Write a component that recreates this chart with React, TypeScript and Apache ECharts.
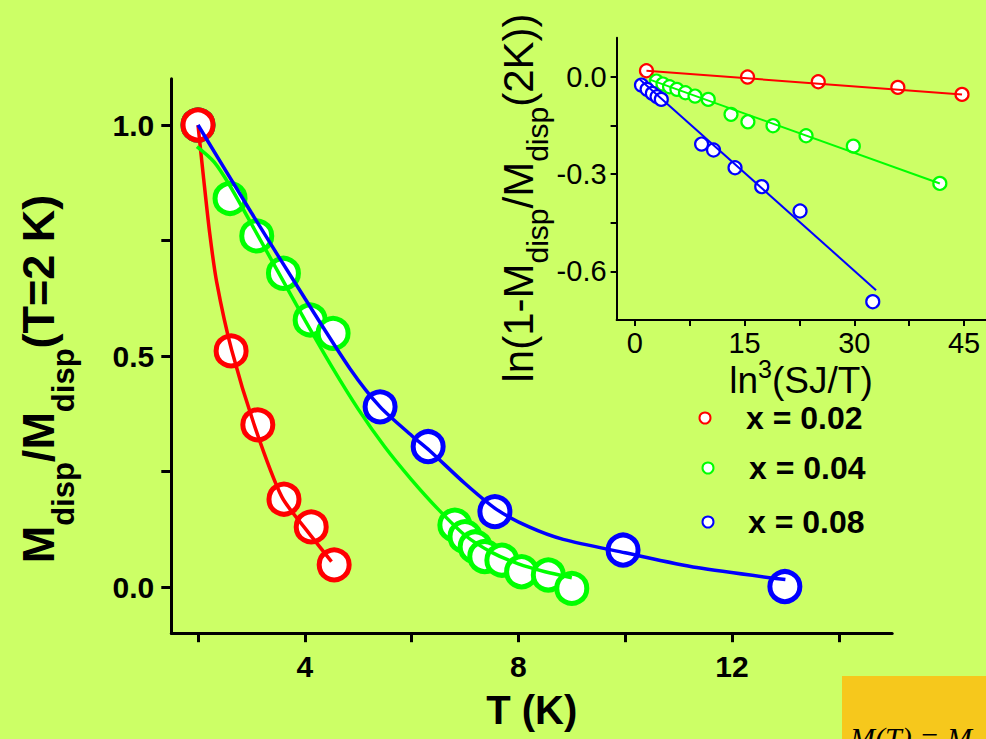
import React, { useEffect, useRef } from 'react';
import * as echarts from 'echarts';

// ---------- main panel data ----------
const redT = [2.0, 2.62, 3.12, 3.61, 4.12, 4.55];
const redM = [1.0, 0.511, 0.351, 0.19, 0.13, 0.048];
const greenT = [2.0, 2.6, 3.1, 3.6, 4.1, 4.53, 6.81, 7.0, 7.19, 7.37, 7.69, 8.06, 8.56, 9.0];
const greenM = [1.0, 0.841, 0.76, 0.679, 0.578, 0.549, 0.134, 0.109, 0.087, 0.066, 0.058, 0.033, 0.026, -0.003];
const blueT = [2.0, 5.41, 6.31, 7.56, 9.96, 12.99];
const blueM = [1.0, 0.39, 0.304, 0.163, 0.08, 0.001];

// fitted curves
const redFitT = [2.0, 2.1, 2.22, 2.35, 2.63, 3.07, 3.57, 4.04, 4.5];
const redFitM = [1.0, 0.89, 0.765, 0.66, 0.513, 0.345, 0.195, 0.122, 0.055];
const greenFitT = [1.98, 2.3, 2.6, 3.0, 3.5, 4.0, 4.5, 5.0, 5.5, 6.0, 6.5, 7.0, 7.5, 8.0, 8.5, 9.0];
const greenFitM = [0.953, 0.92, 0.868, 0.786, 0.682, 0.578, 0.478, 0.385, 0.303, 0.232, 0.168, 0.112, 0.075, 0.05, 0.033, 0.02];
const blueFitT = [2.0, 3.0, 4.0, 4.85, 5.41, 6.0, 6.34, 7.0, 7.59, 8.2, 8.84, 10.0, 11.34, 13.0];
const blueFitM = [1.0, 0.81, 0.625, 0.472, 0.39, 0.328, 0.295, 0.224, 0.168, 0.13, 0.103, 0.074, 0.042, 0.016];

const mainXTicks = [2, 4, 6, 8, 10, 12, 14];
const mainXLabels = [4, 8, 12];
const mainYTicks = [0, 0.25, 0.5, 0.75, 1.0];
const mainYLabels = [0, 0.5, 1.0];

// ---------- inset data ----------
const insRedX = [1.58, 15.4, 25.07, 35.95, 44.72];
const insRedY = [0.0185, -0.001, -0.0154, -0.0329, -0.0545];
const insGreenX = [2.94, 3.84, 4.74, 5.74, 6.91, 8.22, 10.03, 13.14, 15.45, 18.88, 23.4, 29.86, 41.69];
const insGreenY = [-0.0134, -0.0226, -0.0308, -0.039, -0.0493, -0.0596, -0.0699, -0.116, -0.139, -0.151, -0.182, -0.214, -0.329];
const insBlueX = [0.9, 1.67, 2.39, 3.03, 3.61, 9.12, 10.75, 13.69, 17.34, 22.58, 32.52];
const insBlueY = [-0.0257, -0.039, -0.0514, -0.0617, -0.0699, -0.2076, -0.226, -0.2805, -0.339, -0.414, -0.6936];

const insRedFitX = [1.58, 44.72];
const insRedFitY = [0.0185, -0.0545];
const insGreenFitX = [1.94, 41.69];
const insGreenFitY = [-0.0082, -0.329];
const insBlueFitX = [0.68, 32.97];
const insBlueFitY = [-0.0082, -0.658];

const insXTicks = [0, 7.5, 15, 22.5, 30, 37.5, 45];
const insXLabels = [0, 15, 30, 45];
const insYTicks = [0, -0.15, -0.3, -0.45, -0.6];
const insYLabels = [0, -0.3, -0.6];

const legendNames = ['x = 0.02', 'x = 0.04', 'x = 0.08'];

const RED = '#ff0000';
const GREEN = '#00ff00';
const BLUE = '#0000ff';
const FONT = '"Liberation Sans", Arial, Helvetica, sans-serif';

const zip = (a: number[], b: number[]) => a.map((v, i) => [v, b[i]]);

export default function App() {
  const ref = useRef<HTMLDivElement>(null);
  useEffect(() => {
    if (!ref.current) return;
    const chart = echarts.init(ref.current, undefined, { renderer: 'svg' });

    const mainScatter = (name: string, color: string, t: number[], m: number[]) => ({
      type: 'scatter', name, xAxisIndex: 0, yAxisIndex: 0, z: 2, silent: true,
      data: zip(t, m), symbol: 'circle', symbolSize: 30,
      itemStyle: { color: '#ffffff', borderColor: color, borderWidth: 5, opacity: 1 },
    });
    const mainLine = (color: string, t: number[], m: number[]) => ({
      type: 'line', xAxisIndex: 0, yAxisIndex: 0, z: 3, silent: true,
      data: zip(t, m), symbol: 'none', smooth: 0.25,
      lineStyle: { color, width: 3.5 },
    });
    const insScatter = (color: string, x: number[], y: number[]) => ({
      type: 'scatter', xAxisIndex: 1, yAxisIndex: 1, z: 2, silent: true,
      data: zip(x, y), symbol: 'circle', symbolSize: 13,
      itemStyle: { color: '#ffffff', borderColor: color, borderWidth: 2.2, opacity: 1 },
    });
    const insLine = (color: string, x: number[], y: number[]) => ({
      type: 'line', xAxisIndex: 1, yAxisIndex: 1, z: 3, silent: true,
      data: zip(x, y), symbol: 'none',
      lineStyle: { color, width: 2 },
    });

    const legendRows = [
      { c: RED, cx: 705, cy: 418, tx: 746 },
      { c: GREEN, cx: 708, cy: 468, tx: 749 },
      { c: BLUE, cx: 708, cy: 522, tx: 748 },
    ];

    const option: any = {
      animation: false,
      backgroundColor: '#ccff66',
      grid: [
        { left: 171.3, top: 78.8, width: 720.9, height: 554.4 },
        { left: 616.6, top: 37.8, width: 372.7, height: 282.2 },
      ],
      xAxis: [
        {
          type: 'value', gridIndex: 0, min: 1.5, max: 15,
          axisLine: { show: true, onZero: false, lineStyle: { color: '#000', width: 3 } },
          axisTick: { show: true, customValues: mainXTicks, length: 9, lineStyle: { color: '#000', width: 3 } },
          axisLabel: {
            customValues: mainXLabels, margin: 18, color: '#000', fontSize: 30, fontWeight: 'bold', fontFamily: FONT,
            formatter: (v: number) => String(v),
          },
          splitLine: { show: false },
          name: 'T (K)', nameLocation: 'middle', nameGap: 57,
          nameTextStyle: { fontSize: 40, fontWeight: 'bold', fontFamily: FONT, color: '#000' },
        },
        {
          type: 'value', gridIndex: 1, min: -2.5, max: 48,
          axisLine: { show: true, onZero: false, lineStyle: { color: '#000', width: 2 } },
          axisTick: { show: true, customValues: insXTicks, length: 6, lineStyle: { color: '#000', width: 2 } },
          axisLabel: {
            customValues: insXLabels, margin: 8, color: '#000', fontSize: 29, fontFamily: FONT,
            formatter: (v: number) => String(v),
          },
          splitLine: { show: false },
        },
      ],
      yAxis: [
        {
          type: 'value', gridIndex: 0, min: -0.1, max: 1.1,
          axisLine: { show: true, onZero: false, lineStyle: { color: '#000', width: 3 } },
          axisTick: { show: true, customValues: mainYTicks, length: 10, lineStyle: { color: '#000', width: 3 } },
          axisLabel: {
            customValues: mainYLabels, margin: 17, color: '#000', fontSize: 30, fontWeight: 'bold', fontFamily: FONT,
            formatter: (v: number) => v.toFixed(1),
          },
          splitLine: { show: false },
        },
        {
          type: 'value', gridIndex: 1, min: -0.75, max: 0.12,
          axisLine: { show: true, onZero: false, lineStyle: { color: '#000', width: 2 } },
          axisTick: { show: true, customValues: insYTicks, length: 6, lineStyle: { color: '#000', width: 2 } },
          axisLabel: {
            customValues: insYLabels, margin: 10, color: '#000', fontSize: 29, fontFamily: FONT,
            formatter: (v: number) => v.toFixed(1),
          },
          splitLine: { show: false },
        },
      ],
      series: [
        mainScatter(legendNames[2], BLUE, blueT, blueM),
        mainScatter(legendNames[1], GREEN, greenT, greenM),
        mainScatter(legendNames[0], RED, redT, redM),
        mainLine(RED, redFitT, redFitM),
        mainLine(GREEN, greenFitT, greenFitM),
        mainLine(BLUE, blueFitT, blueFitM),
        insScatter(RED, insRedX, insRedY),
        insScatter(GREEN, insGreenX, insGreenY),
        insScatter(BLUE, insBlueX, insBlueY),
        insLine(RED, insRedFitX, insRedFitY),
        insLine(GREEN, insGreenFitX, insGreenFitY),
        insLine(BLUE, insBlueFitX, insBlueFitY),
      ],
      graphic: [
        // main y title
        {
          type: 'text', x: 38, y: 379, rotation: Math.PI / 2, silent: true,
          style: {
            text: '{m|M}{s|disp}{m|/M}{s|disp}{m|(T=2 K)}',
            align: 'center', verticalAlign: 'middle', fill: '#000',
            rich: {
              m: { fontSize: 45, fontWeight: 'bold', fontFamily: FONT, fill: '#000' },
              s: { fontSize: 31, fontWeight: 'bold', fontFamily: FONT, fill: '#000', padding: [50, 0, 0, 0] },
            },
          },
        },
        // inset y title
        {
          type: 'text', x: 518, y: 198, rotation: Math.PI / 2, silent: true,
          style: {
            text: '{m|ln(1-M}{s|disp}{m|/M}{s|disp}{m|(2K))}',
            align: 'center', verticalAlign: 'middle', fill: '#000',
            rich: {
              m: { fontSize: 42, fontFamily: FONT, fill: '#000' },
              s: { fontSize: 30, fontFamily: FONT, fill: '#000', padding: [38, 0, 0, 0] },
            },
          },
        },
        // inset x title
        {
          type: 'text', x: 801, y: 380, silent: true,
          style: {
            text: '{m|ln}{p|3}{m|(SJ/T)}',
            align: 'center', verticalAlign: 'middle', fill: '#000',
            rich: {
              m: { fontSize: 37, fontFamily: FONT, fill: '#000' },
              p: { fontSize: 25, fontFamily: FONT, fill: '#000', padding: [0, 0, 23, 0] },
            },
          },
        },
        // legend
        ...legendRows.flatMap((r, i) => [
          {
            type: 'circle', silent: true, shape: { cx: r.cx, cy: r.cy, r: 5.5 },
            style: { fill: '#ffffff', stroke: r.c, lineWidth: 2 },
          },
          {
            type: 'text', x: r.tx, y: r.cy, silent: true,
            style: {
              text: legendNames[i], fontSize: 32, fontWeight: 'bold', fontFamily: FONT,
              fill: '#000', align: 'left', verticalAlign: 'middle',
            },
          },
        ]),
        // cropped yellow formula box
        {
          type: 'rect', silent: true, shape: { x: 842, y: 676, width: 150, height: 70 },
          style: { fill: '#f6c81c' },
        },
        {
          type: 'text', x: 850, y: 737, silent: true,
          style: {
            text: 'M(T) = M', fontSize: 30, fontStyle: 'italic',
            fontFamily: '"Liberation Serif", "DejaVu Serif", serif', fill: '#000',
            align: 'left', verticalAlign: 'middle',
          },
        },
      ],
    };
    chart.setOption(option);
    return () => chart.dispose();
  }, []);

  return (
    <div
      ref={ref}
      style={{ position: 'fixed', left: 0, top: 0, width: 986, height: 739, background: '#ccff66' }}
    />
  );
}
